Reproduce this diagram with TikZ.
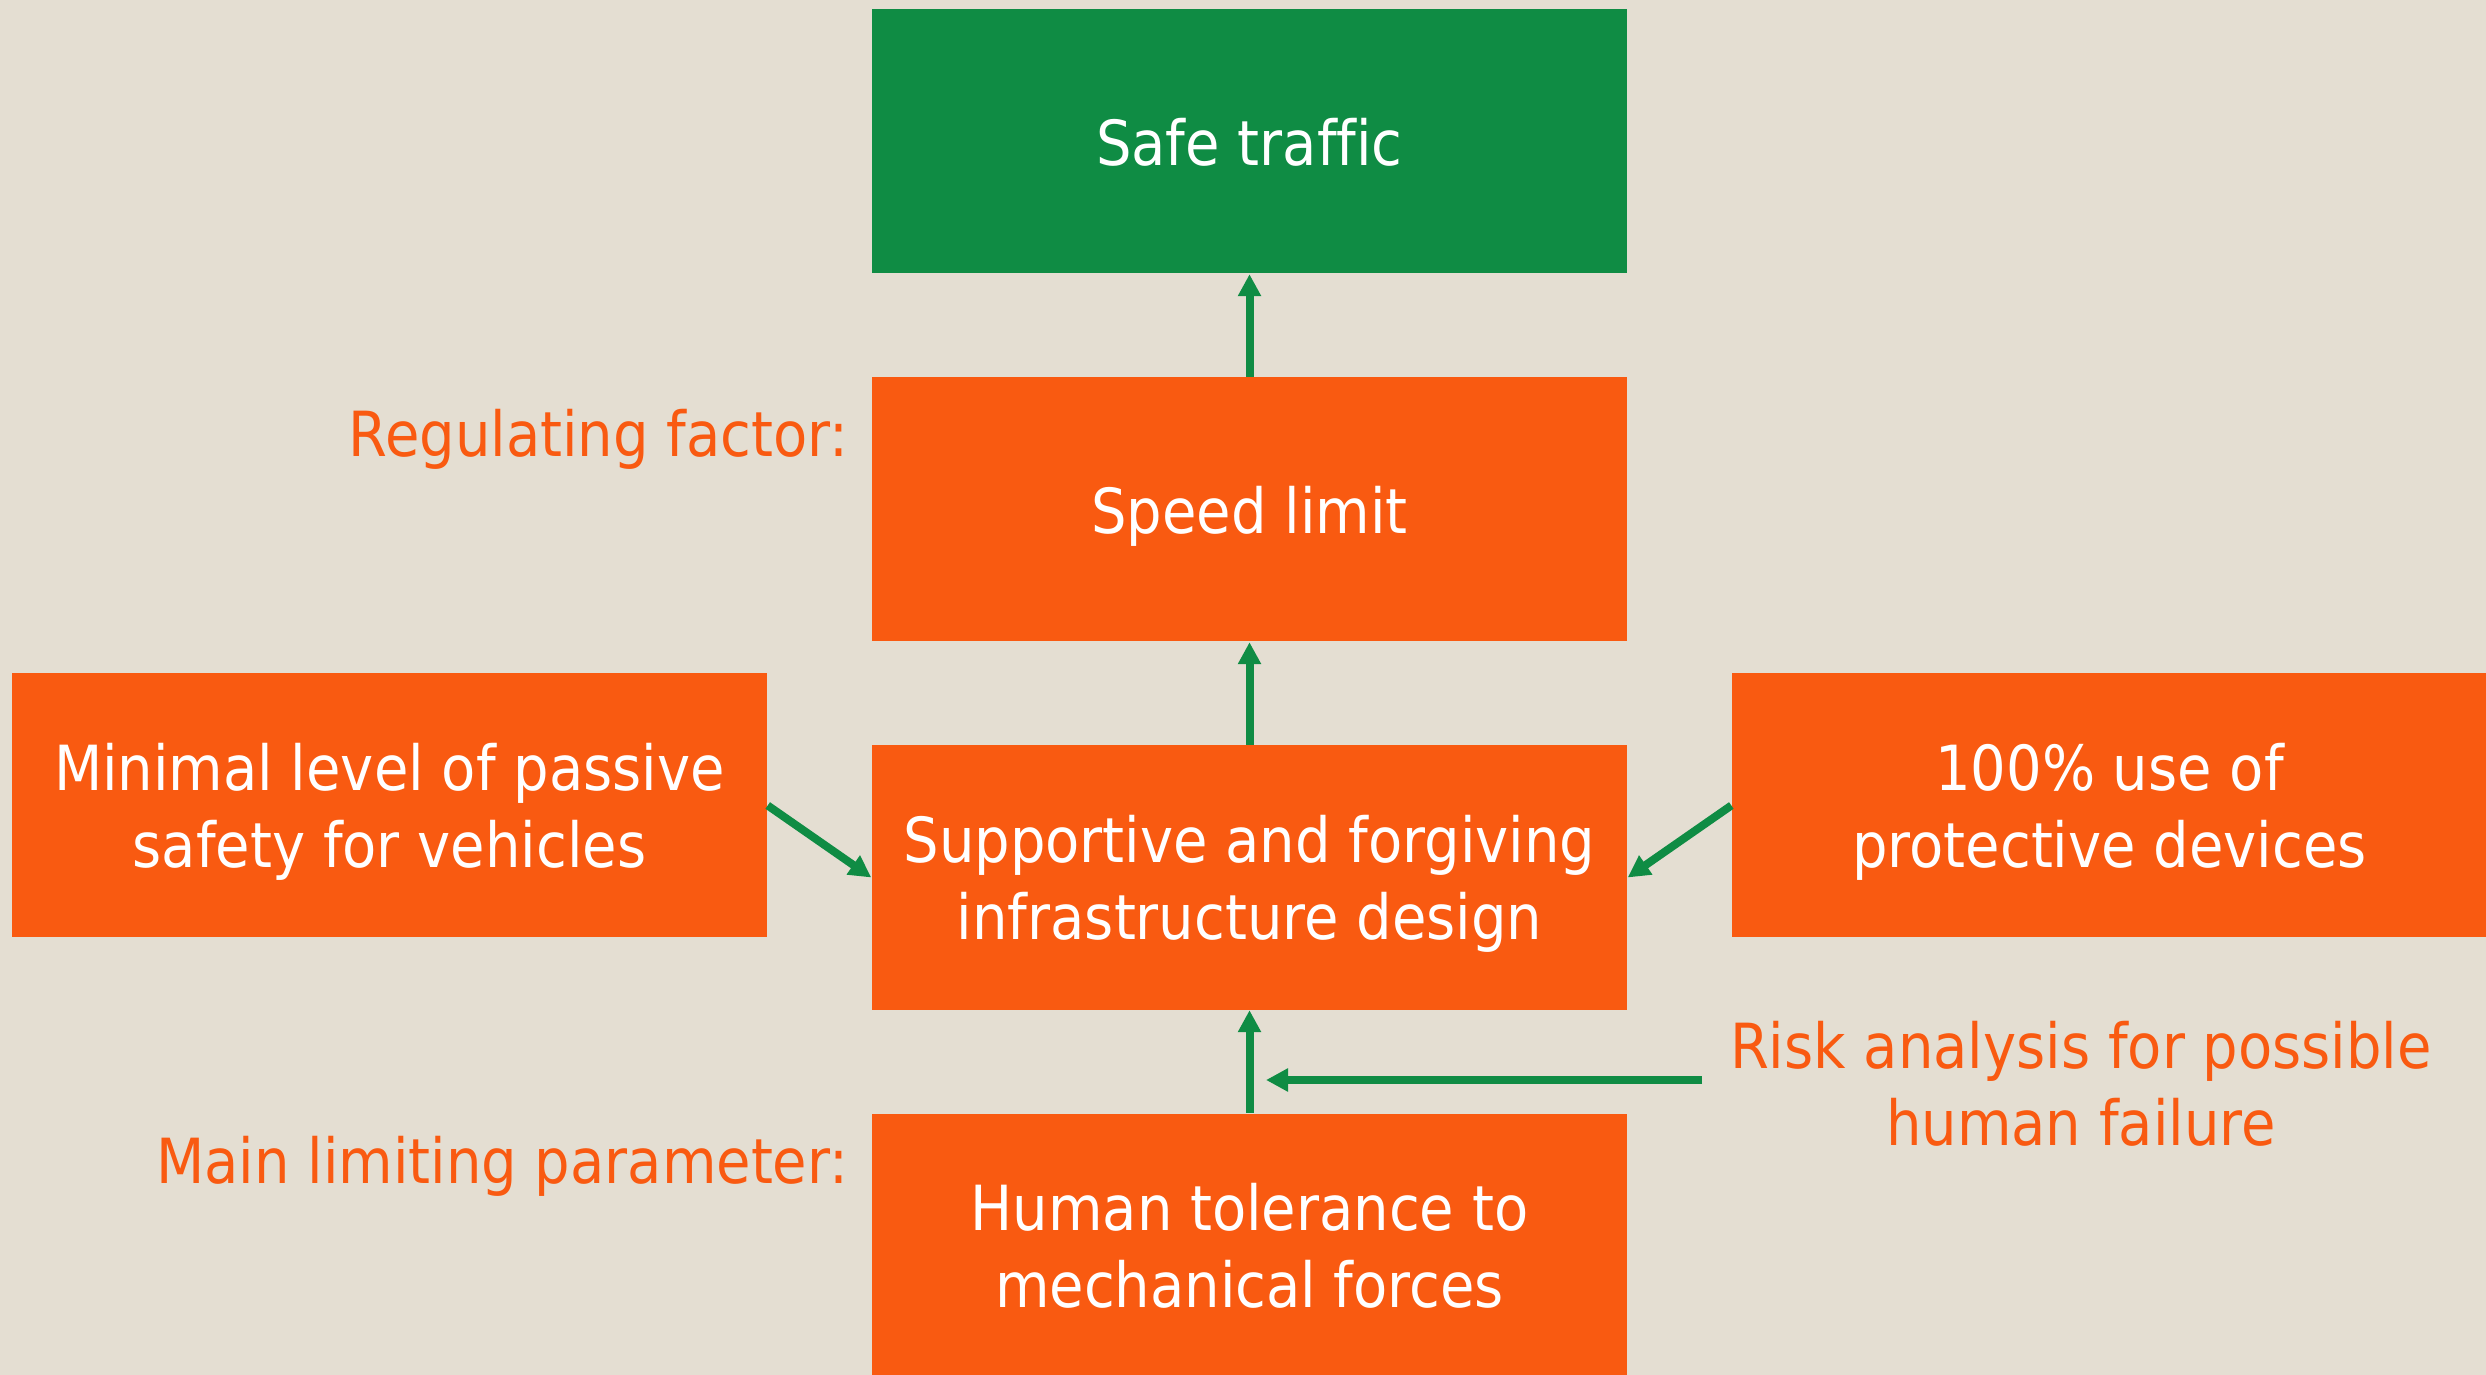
\documentclass[tikz,border=0pt]{standalone}
\usepackage{fontspec}
\setmainfont{DejaVu Sans Condensed}[Ligatures=CommonOff]
\usetikzlibrary{arrows.meta,positioning}

\definecolor{bgsand}{HTML}{E4DED2}
\definecolor{roadorange}{HTML}{F95A11}
\definecolor{roadgreen}{HTML}{0F8C44}
\newcommand\diagfont{\fontsize{17.7}{21.8}\selectfont}

\begin{document}
\begin{tikzpicture}[>={Triangle[length=0.22cm,width=0.22cm]},
                    node distance=3.68cm,on grid,
    box/.style={fill=roadorange,text=white,minimum width=7.55cm,minimum height=2.64cm,
                inner sep=0pt,text depth=0pt,align=center,font=\diagfont},
    goal/.style={box,fill=roadgreen},
    note/.style={text=roadorange,inner sep=0pt,align=center,font=\diagfont},
    flow/.style={->,color=roadgreen,line width=0.08cm}]
      \fill[bgsand] (0,0) rectangle (24.86,-13.75);
      \useasboundingbox (0,0) rectangle (24.86,-13.75);

      \node[goal] (safe) at (12.495,-1.415) {Safe traffic};
      \node[box] (speed) [below=of safe] {Speed limit};
      \node[box] (support) [below=of speed] {Supportive and forgiving\\infrastructure design};
      \node[box] (human) [below=of support] {Human tolerance to\\mechanical forces};

      \node[box] (passive) [left=8.6cm of support,yshift=0.72cm] {Minimal level of passive\\safety for vehicles};
      \node[box] (devices) [right=8.6cm of support,yshift=0.72cm] {100\% use of\\protective devices};

      % side labels
      \node[note,anchor=base east] (regulating) at (8.49,-4.57) {Regulating factor:};
      \node[note,anchor=base east] (limiting) at (8.49,-11.83) {Main limiting parameter:};
      \node[note] (risk) at (20.81,-10.84) {Risk analysis for possible\\human failure};

      \coordinate (riskstart) at (17.02,-10.80);
      \coordinate (riskend) at (12.66,-10.80);

      \draw[flow] (speed) -- (safe);
      \draw[flow] (support) -- (speed);
      \draw[flow] (human) -- (support);
      \draw[flow] (passive.east) -- (support.west);
      \draw[flow] (devices.west) -- (support.east);
      \draw[flow] (riskstart) -- (riskend);
    \end{tikzpicture}
\end{document}
